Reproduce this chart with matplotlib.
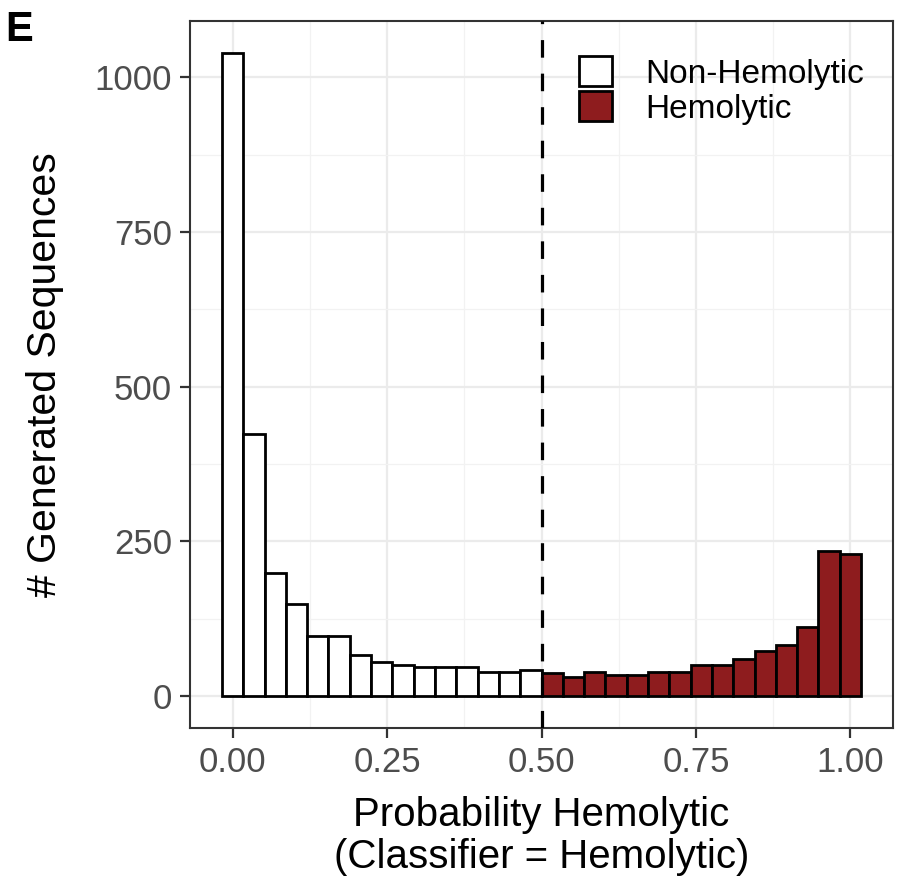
import numpy as np
import matplotlib
matplotlib.use("Agg")
import matplotlib.pyplot as plt
from matplotlib.patches import Patch
from matplotlib.ticker import MultipleLocator

plt.rcParams['font.family'] = ['Liberation Sans', 'DejaVu Sans']

# Histogram counts (30 bins spanning 0..1, centers from 0 to 1)
counts = [1039, 424, 199, 148, 97, 97, 66, 54, 50, 46, 46, 46, 39, 39, 42,
          37, 30, 38, 34, 34, 38, 38, 50, 50, 59, 73, 83, 112, 234, 230]
n_bins = len(counts)
threshold = 0.5
legend_labels = ["Non-Hemolytic", "Hemolytic"]
fill_colors = ["white", "#8E1C1E"]
x_ticks = [0.00, 0.25, 0.50, 0.75, 1.00]
x_tick_labels = ["0.00", "0.25", "0.50", "0.75", "1.00"]
y_ticks = [0, 250, 500, 750, 1000]
x_title = "Probability Hemolytic\n(Classifier = Hemolytic)"
y_title = "# Generated Sequences"
panel_letter = "E"

centers = np.linspace(0, 1, n_bins)
binwidth = centers[1] - centers[0]
colors = [fill_colors[1] if c > threshold else fill_colors[0] for c in centers]

fig = plt.figure(figsize=(8.97, 8.82), dpi=100)
ax = fig.add_axes([190/897, 1-728/882, (893-190)/897, (728-21)/882])

ax.bar(centers, counts, width=binwidth, color=colors, edgecolor="black",
       linewidth=2.0, zorder=3)
ax.axvline(threshold, color="black", linestyle=(0, (5.5, 5)), linewidth=2.3, zorder=4)

xmin, xmax = -binwidth/2, 1 + binwidth/2
pad = (xmax - xmin) * 0.05
ax.set_xlim(xmin - pad, xmax + pad)
ymax = max(counts)
ax.set_ylim(-ymax*0.05, ymax*1.05)

ax.set_xticks(x_ticks)
ax.set_xticklabels(x_tick_labels)
ax.set_yticks(y_ticks)
ax.xaxis.set_minor_locator(MultipleLocator(0.125))
ax.yaxis.set_minor_locator(MultipleLocator(125))
ax.grid(which="major", color="#EBEBEB", linewidth=1.6, zorder=0)
ax.grid(which="minor", color="#F2F2F2", linewidth=0.9, zorder=0)
ax.set_axisbelow(True)
ax.tick_params(which="minor", length=0)
ax.tick_params(which="major", length=7, width=1.6, color="#333333",
               labelsize=25, labelcolor="#4D4D4D", pad=6)
for s in ax.spines.values():
    s.set_color("#333333")
    s.set_linewidth(1.5)

ax.set_xlabel(x_title, fontsize=29, color="black", labelpad=12, linespacing=1.15)
ax.set_ylabel(y_title, fontsize=29.5, color="black", labelpad=22)

handles = [Patch(facecolor=fill_colors[0], edgecolor="black", linewidth=2.0),
           Patch(facecolor=fill_colors[1], edgecolor="black", linewidth=2.0)]
ax.legend(handles, legend_labels, loc="upper left", bbox_to_anchor=(0.553, 0.95),
          frameon=False, fontsize=24, handlelength=1.0, handleheight=1.0,
          handletextpad=1.0, labelspacing=0.05, borderpad=0, borderaxespad=0)

fig.text(5/897, 1-10/882, panel_letter, fontsize=30, fontweight="bold",
         ha="left", va="top")

fig.savefig("out.png", dpi=100)
